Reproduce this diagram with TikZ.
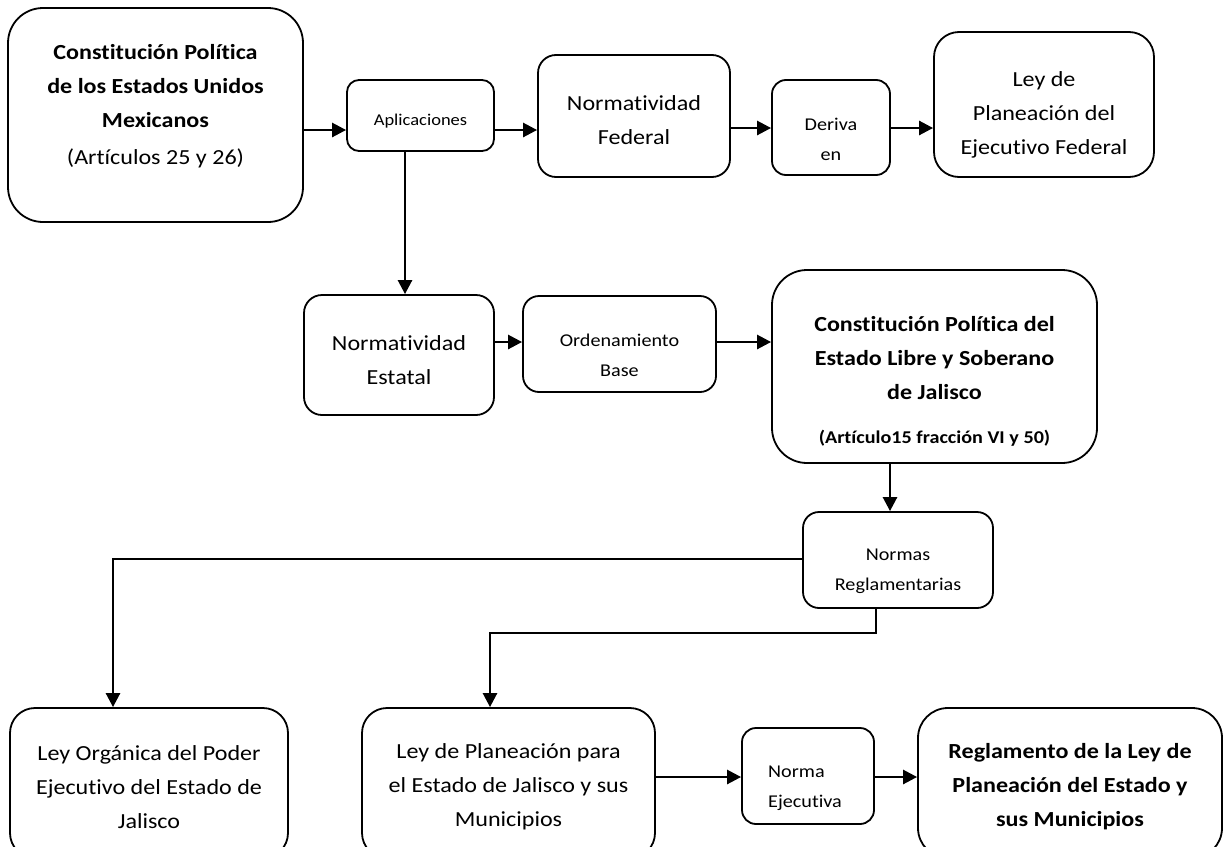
\documentclass[tikz,border=0pt]{standalone}
\usepackage{fontspec}
\setmainfont{Carlito}[FakeStretch=1.12, RawFeature={-liga;-clig;-calt;-dlig}]
\usetikzlibrary{arrows.meta}
\begin{document}
\begin{tikzpicture}[x=1pt,y=-1pt,
  box/.style={draw, line width=1.8pt, rounded corners=#1, inner sep=0pt},
  box/.default=18pt,
  big/.style={align=center, inner sep=0pt, font=\fontsize{21.5}{34}\selectfont},
  bigb/.style={align=center, inner sep=0pt, font=\fontsize{21.5}{34}\selectfont\bfseries},
  small/.style={align=center, inner sep=0pt, font=\fontsize{18}{30}\selectfont},
  arr/.style={line width=2.6pt, -{Triangle[length=14pt,width=14pt]}}]
\useasboundingbox (0,0) rectangle (1226,846);
\clip (0,0) rectangle (1226,846);
% top row
\node[box=35pt, minimum width=295pt, minimum height=214pt] (A) at (155.5,115) {};
\node[bigb] (At) at (155.5,86) {Constitución Política\\de los Estados Unidos\\Mexicanos};
\node[big] (Aa) at (155.5,158) {(Artículos 25 y 26)};
\node[box=12pt, minimum width=147pt, minimum height=71pt] (Apl) at (420.5,115.5) {};
\node[small, font=\fontsize{16.5}{28}\selectfont] (Aplt) at (420.5,121) {Aplicaciones};
\node[box=18pt, minimum width=192pt, minimum height=122pt] (NF) at (634,116) {};
\node[big] (NFt) at (634,120) {Normatividad\\Federal};
\node[box=14pt, minimum width=118pt, minimum height=95pt] (Dv) at (831,127.5) {};
\node[small] (Dvt) at (831,139.5) {Deriva\\en};
\node[box=25pt, minimum width=220pt, minimum height=145pt] (Ley) at (1044,104.5) {};
\node[big] (Leyt) at (1044,114.5) {Ley de\\Planeación del\\Ejecutivo Federal};
% middle row
\node[box=18pt, minimum width=190pt, minimum height=120pt] (NE) at (399,355) {};
\node[big] (NEt) at (399,360.5) {Normatividad\\Estatal};
\node[box=16pt, minimum width=193pt, minimum height=96pt] (OB) at (619.5,344) {};
\node[small] (OBt) at (619.5,355) {Ordenamiento\\Base};
\node[box=35pt, minimum width=325pt, minimum height=193pt] (CJ) at (934.5,366.5) {};
\node[bigb] (CJt) at (934.5,358) {Constitución Política del\\Estado Libre y Soberano\\de Jalisco};
\node[font=\fontsize{18}{30}\selectfont\bfseries, inner sep=0pt] (CJa) at (934.5,438) {(Artículo15 fracción VI y 50)};
\node[box=16pt, minimum width=190pt, minimum height=96pt] (NR) at (898,560) {};
\node[small] (NRt) at (898,571.5) {Normas\\Reglamentarias};
% bottom row
\node[box=25pt, minimum width=278pt, minimum height=150pt] (LO) at (149,783) {};
\node[big] (LOt) at (149,787) {Ley Orgánica del Poder\\Ejecutivo del Estado de\\Jalisco};
\node[box=25pt, minimum width=293pt, minimum height=150pt] (LP) at (508.5,783) {};
\node[big] (LPt) at (508.5,787) {Ley de Planeación para\\el Estado de Jalisco y sus\\Municipios};
\node[box=14pt, minimum width=132pt, minimum height=96pt] (NEj) at (808,776) {};
\node[small, align=left, anchor=west] (NEjt) at (768,788) {Norma\\Ejecutiva};
\node[box=30pt, minimum width=304pt, minimum height=150pt] (Reg) at (1070,783) {};
\node[bigb] (Regt) at (1070,787) {Reglamento de la Ley de\\Planeación del Estado y\\sus Municipios};
% connectors
\draw[arr] (A.east |- 0,130) -- (Apl.west |- 0,130);
\draw[arr] (Apl.east |- 0,130) -- (NF.west |- 0,130);
\draw[arr] (NF.east |- 0,128) -- (Dv.west |- 0,128);
\draw[arr] (Dv.east |- 0,128) -- (Ley.west |- 0,128);
\draw[arr] (Apl.south -| 405,0) -- (NE.north -| 405,0);
\draw[arr] (NE.east |- 0,342) -- (OB.west |- 0,342);
\draw[arr] (OB.east |- 0,342) -- (CJ.west |- 0,342);
\draw[arr] (CJ.south -| 890,0) -- (NR.north -| 890,0);
\draw[arr] (NR.west |- 0,559) -| (LO.north -| 113,0);
\draw[arr] (NR.south -| 876,0) -- ++(0,24) -| (LP.north -| 490,0);
\draw[arr] (LP.east |- 0,777) -- (NEj.west |- 0,777);
\draw[arr] (NEj.east |- 0,777) -- (Reg.west |- 0,777);
\end{tikzpicture}
\end{document}
